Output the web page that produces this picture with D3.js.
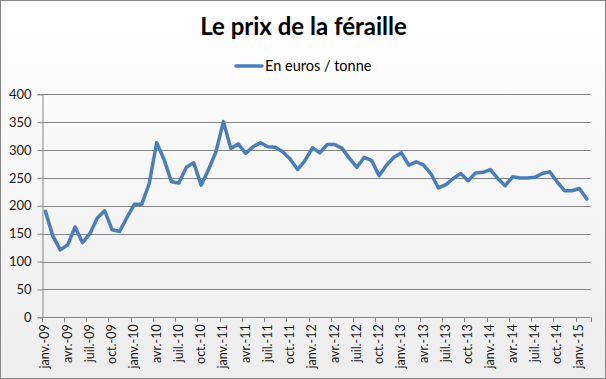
<!DOCTYPE html>
<html><head><meta charset="utf-8">
<script src="https://cdn.jsdelivr.net/npm/d3@7"></script>
<style>body{margin:0;background:#fff}svg{display:block}</style>
</head><body>
<script>
const title = "Le prix de la féraille";
const seriesName = "En euros / tonne";
const monthNames = ["janv.","févr.","mars","avr.","mai","juin","juil.","août","sept.","oct.","nov.","déc."];
const startYear = 2009;
const values = [190,146,121,130,162,134,150,178,191,157,154,179,
                203,203,240,313,283,243,241,269,277,237,265,297,
                351,303,311,294,306,313,306,305,297,284,265,281,
                304,295,310,310,303,285,269,287,281,254,273,287,
                295,273,279,273,257,232,238,249,258,245,259,260,
                265,249,236,252,250,250,251,258,261,243,227,227,
                231,212];
const yTicks = [0,50,100,150,200,250,300,350,400];

(function(){
const W=606,H=379;
const svg=d3.select("body").append("svg").attr("width",W).attr("height",H);
const defs=svg.append("defs");
const g=defs.append("linearGradient").attr("id","bg").attr("x1",0).attr("y1",0).attr("x2",0).attr("y2",1);
g.append("stop").attr("offset","0%").attr("stop-color","#ffffff");
g.append("stop").attr("offset","100%").attr("stop-color","#ededed");
svg.append("rect").attr("x",0.5).attr("y",0.5).attr("width",W-1).attr("height",H-1)
  .attr("fill","url(#bg)").attr("stroke","#868686").attr("stroke-width",1);

const labels = values.map((v,i)=>{
  const m=i%12, yr=startYear+Math.floor(i/12);
  return monthNames[m]+"-"+String(yr%100).padStart(2,"0");
});
const idx = values.map((v,i)=>i);
const pL=41.7,pR=590.5,pT=94.3,pB=317.3;
const x=d3.scaleBand().domain(idx).range([pL,pR]).padding(0);
const y=d3.scaleLinear().domain([0,400]).range([pB,pT]);
const font="Lato, 'Open Sans', sans-serif";

svg.append("g").selectAll("line").data(yTicks.filter(t=>t>0)).join("line")
  .attr("x1",pL).attr("x2",pR).attr("y1",d=>Math.round(y(d))+0.5).attr("y2",d=>Math.round(y(d))+0.5)
  .attr("stroke","#868686").attr("stroke-width",1);

const yAxis=svg.append("g").attr("transform",`translate(${Math.round(pL)+0.5},0)`)
  .call(d3.axisLeft(y).tickValues(yTicks).tickSize(5).tickPadding(6));
yAxis.select(".domain").attr("stroke","#868686");
yAxis.selectAll(".tick line").attr("stroke","#868686");
yAxis.selectAll(".tick text").attr("font-family",font).attr("font-size",13).attr("fill","#1a1a1a");

const xg=svg.append("g");
xg.append("line").attr("x1",pL).attr("x2",pR).attr("y1",Math.round(pB)+0.5).attr("y2",Math.round(pB)+0.5)
  .attr("stroke","#868686");
const tickIdx=idx.filter(i=>i%3===0);
xg.selectAll("line.tk").data(tickIdx.concat([values.length])).join("line").attr("class","tk")
  .attr("x1",d=>Math.round(pL+d*x.bandwidth())+0.5).attr("x2",d=>Math.round(pL+d*x.bandwidth())+0.5)
  .attr("y1",Math.round(pB)).attr("y2",Math.round(pB)+5).attr("stroke","#868686");
xg.selectAll("text").data(tickIdx).join("text")
  .attr("transform",d=>`translate(${x(d)+x.bandwidth()/2+4},${pB+7}) rotate(-90)`)
  .attr("text-anchor","end").attr("font-family",font).attr("font-size",12.5).attr("fill","#1a1a1a")
  .text(d=>labels[d]);

const line=d3.line().x((d,i)=>x(i)+x.bandwidth()/2).y(d=>y(d));
svg.append("path").datum(values).attr("d",line).attr("fill","none")
  .attr("stroke","#4a7ebb").attr("stroke-width",3.5).attr("stroke-linejoin","round").attr("stroke-linecap","round");

svg.append("text").attr("x",303.5).attr("y",35).attr("text-anchor","middle")
  .attr("font-family",font).attr("font-weight","bold").attr("font-size",24).attr("fill","#000").text(title);
svg.append("line").attr("x1",236).attr("x2",262).attr("y1",66).attr("y2",66)
  .attr("stroke","#4a7ebb").attr("stroke-width",3.5).attr("stroke-linecap","round");
svg.append("text").attr("x",265).attr("y",71).attr("font-family",font).attr("font-size",14.5)
  .attr("fill","#000").text(seriesName);
})();
</script>
</body></html>
